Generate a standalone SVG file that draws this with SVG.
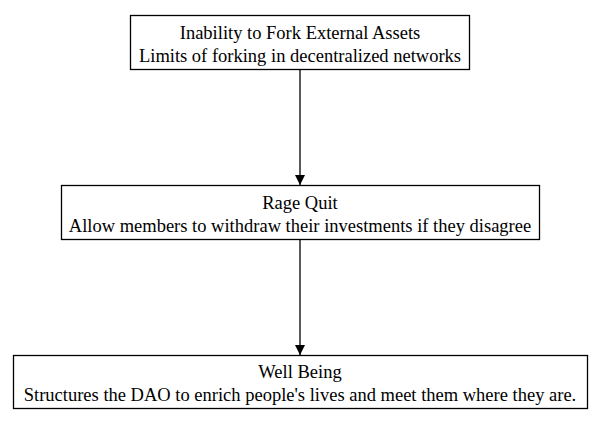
<svg xmlns="http://www.w3.org/2000/svg" width="600" height="425" viewBox="0 0 600 425">
<style>
.box{fill:#fff;stroke:#000;stroke-width:1.3}
.t{font-family:"Liberation Serif","Times New Roman",serif;font-size:18.5px;fill:#000;text-anchor:middle}
.e{stroke:#000;stroke-width:1.3;fill:none}
</style>
<defs>
<marker id="ah" markerWidth="10" markerHeight="12" refX="10" refY="5" orient="auto" markerUnits="userSpaceOnUse" viewBox="0 0 10 10">
<path d="M0,0 L10,5 L0,10 Z" fill="#000"/>
</marker>
</defs>
<rect width="600" height="425" fill="#fff"/>
<g id="edges">
<line class="e" x1="300" y1="69" x2="300" y2="185" marker-end="url(#ah)"/>
<line class="e" x1="300" y1="240" x2="300" y2="355" marker-end="url(#ah)"/>
</g>
<g id="n1">
<rect class="box" x="130.5" y="15.5" width="339" height="54"/>
<text class="t" x="300" y="39">Inability to Fork External Assets</text>
<text class="t" x="300" y="62">Limits of forking in decentralized networks</text>
</g>
<g id="n2">
<rect class="box" x="61.5" y="185.5" width="478" height="54"/>
<text class="t" x="300" y="209">Rage Quit</text>
<text class="t" x="300" y="232">Allow members to withdraw their investments if they disagree</text>
</g>
<g id="n3">
<rect class="box" x="13.5" y="355.5" width="574" height="53"/>
<text class="t" x="300" y="378">Well Being</text>
<text class="t" x="300" y="401">Structures the DAO to enrich people's lives and meet them where they are.</text>
</g>
</svg>
